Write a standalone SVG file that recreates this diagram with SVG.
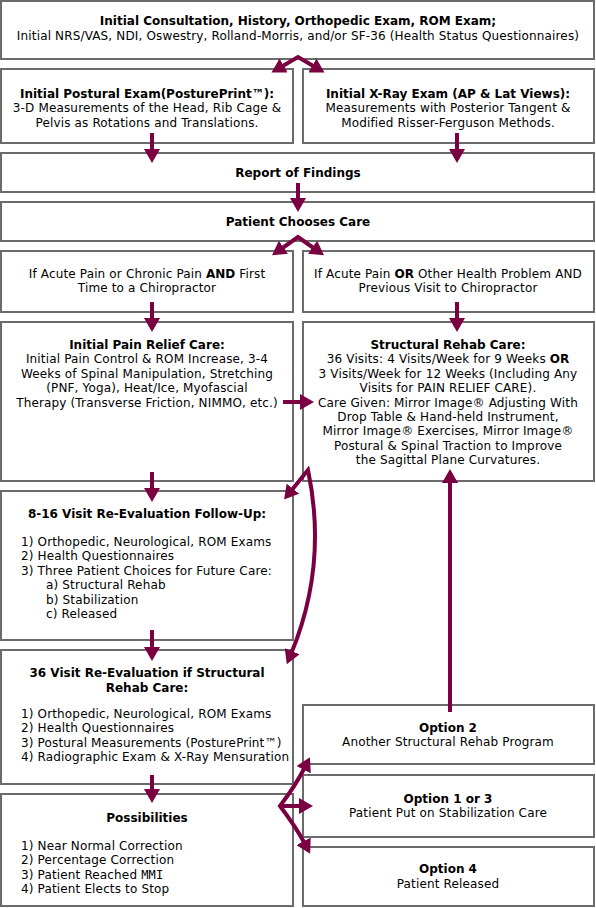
<svg xmlns="http://www.w3.org/2000/svg" width="596" height="908" viewBox="0 0 596 908">
<style>
.box{fill:#fff;stroke:#6b6b6b;stroke-width:2}
text{font-family:"DejaVu Sans","Liberation Sans",sans-serif;font-size:12px;fill:#000;letter-spacing:0.15px}
.c{text-anchor:middle}
.b{font-weight:bold;letter-spacing:0}
.ar{fill:none;stroke:#7b0041;stroke-width:4}
</style>
<defs>
<marker id="ah" viewBox="0 0 14 16" refX="3" refY="8" markerWidth="14" markerHeight="16" orient="auto-start-reverse" markerUnits="userSpaceOnUse">
<path d="M0,0 L14,8 L0,16 z" fill="#7b0041"/>
</marker>
</defs>
<rect width="596" height="908" fill="#fff"/>

<g id="consult">
<rect class="box" x="1" y="1" width="593" height="58"/>
<text class="c b" x="298" y="25">Initial Consultation, History, Orthopedic Exam, ROM Exam;</text>
<text class="c" x="298" y="40">Initial NRS/VAS, NDI, Oswestry, Rolland-Morris, and/or SF-36 (Health Status Questionnaires)</text>
</g>
<g id="postural">
<rect class="box" x="1" y="69" width="292" height="74"/>
<text class="c b" x="147" y="98">Initial Postural Exam(PosturePrint™):</text>
<text class="c" x="147" y="112">3-D Measurements of the Head, Rib Cage &amp;</text>
<text class="c" x="147" y="127">Pelvis as Rotations and Translations.</text>
</g>
<g id="xray">
<rect class="box" x="303" y="69" width="291" height="74"/>
<text class="c b" x="448" y="98">Initial X-Ray Exam (AP &amp; Lat Views):</text>
<text class="c" x="448" y="112">Measurements with Posterior Tangent &amp;</text>
<text class="c" x="448" y="127">Modified Risser-Ferguson Methods.</text>
</g>
<g id="report">
<rect class="box" x="1" y="153" width="593" height="39"/>
<text class="c b" x="298" y="177">Report of Findings</text>
</g>
<g id="chooses">
<rect class="box" x="1" y="202" width="593" height="39"/>
<text class="c b" x="298" y="226">Patient Chooses Care</text>
</g>
<g id="acuteA">
<rect class="box" x="1" y="251" width="292" height="61"/>
<text class="c" x="147" y="278">If Acute Pain or Chronic Pain <tspan class="b">AND</tspan> First</text>
<text class="c" x="147" y="292">Time to a Chiropractor</text>
</g>
<g id="acuteB">
<rect class="box" x="303" y="251" width="291" height="61"/>
<text class="c" x="448" y="278">If Acute Pain <tspan class="b">OR</tspan> Other Health Problem AND</text>
<text class="c" x="448" y="292">Previous Visit to Chiropractor</text>
</g>
<g id="painrelief">
<rect class="box" x="1" y="322" width="292" height="159"/>
<text class="c b" x="147" y="349">Initial Pain Relief Care:</text>
<text class="c" x="147" y="363.4">Initial Pain Control &amp; ROM Increase, 3-4</text>
<text class="c" x="147" y="377.8">Weeks of Spinal Manipulation, Stretching</text>
<text class="c" x="147" y="392.2">(PNF, Yoga), Heat/Ice, Myofascial</text>
<text class="c" x="147" y="406.6">Therapy (Transverse Friction, NIMMO, etc.)</text>
</g>
<g id="structural">
<rect class="box" x="303" y="322" width="291" height="159"/>
<text class="c b" x="448" y="349">Structural Rehab Care:</text>
<text class="c" x="448" y="363.4">36 Visits: 4 Visits/Week for 9 Weeks <tspan class="b">OR</tspan></text>
<text class="c" x="448" y="377.8">3 Visits/Week for 12 Weeks (Including Any</text>
<text class="c" x="448" y="392.2">Visits for PAIN RELIEF CARE).</text>
<text class="c" x="448" y="406.6">Care Given: Mirror Image® Adjusting With</text>
<text class="c" x="448" y="421">Drop Table &amp; Hand-held Instrument,</text>
<text class="c" x="448" y="435.4">Mirror Image® Exercises, Mirror Image®</text>
<text class="c" x="448" y="449.8">Postural &amp; Spinal Traction to Improve</text>
<text class="c" x="448" y="464.2">the Sagittal Plane Curvatures.</text>
</g>
<g id="reeval816">
<rect class="box" x="1" y="491" width="292" height="149"/>
<text class="c b" x="147" y="518">8-16 Visit Re-Evaluation Follow-Up:</text>
<text x="21" y="546">1) Orthopedic, Neurological, ROM Exams</text>
<text x="21" y="560.4">2) Health Questionnaires</text>
<text x="21" y="574.8">3) Three Patient Choices for Future Care:</text>
<text x="46" y="589.2">a) Structural Rehab</text>
<text x="46" y="603.6">b) Stabilization</text>
<text x="46" y="618">c) Released</text>
</g>
<g id="reeval36">
<rect class="box" x="1" y="650" width="292" height="134"/>
<text class="c b" x="147" y="677">36 Visit Re-Evaluation if Structural</text>
<text class="c b" x="147" y="692">Rehab Care:</text>
<text x="21" y="718">1) Orthopedic, Neurological, ROM Exams</text>
<text x="21" y="732.4">2) Health Questionnaires</text>
<text x="21" y="746.8">3) Postural Measurements (PosturePrint™)</text>
<text x="21" y="761.2">4) Radiographic Exam &amp; X-Ray Mensuration</text>
</g>
<g id="possibilities">
<rect class="box" x="1" y="794" width="292" height="112"/>
<text class="c b" x="147" y="822">Possibilities</text>
<text x="21" y="850">1) Near Normal Correction</text>
<text x="21" y="864.4">2) Percentage Correction</text>
<text x="21" y="878.8">3) Patient Reached <tspan font-family="DejaVu Sans Mono, monospace">MMI</tspan></text>
<text x="21" y="893.2">4) Patient Elects to Stop</text>
</g>
<g id="option2">
<rect class="box" x="303" y="705" width="291" height="59"/>
<text class="c b" x="448" y="732">Option 2</text>
<text class="c" x="448" y="746">Another Structural Rehab Program</text>
</g>
<g id="option13">
<rect class="box" x="303" y="775" width="291" height="62"/>
<text class="c b" x="448" y="803">Option 1 or 3</text>
<text class="c" x="448" y="817">Patient Put on Stabilization Care</text>
</g>
<g id="option4">
<rect class="box" x="303" y="847" width="291" height="59"/>
<text class="c b" x="448" y="873">Option 4</text>
<text class="c" x="448" y="888">Patient Released</text>
</g>

<g id="connectors">
<path class="ar" d="M281 67 L298 57 L315 67" marker-start="url(#ah)" marker-end="url(#ah)"/>
<path class="ar" d="M152 133 V152" marker-end="url(#ah)"/>
<path class="ar" d="M457 133 V152" marker-end="url(#ah)"/>
<path class="ar" d="M298 183 V201" marker-end="url(#ah)"/>
<path class="ar" d="M281 249 L298 237 L315 249" marker-start="url(#ah)" marker-end="url(#ah)"/>
<path class="ar" d="M152 302 V321" marker-end="url(#ah)"/>
<path class="ar" d="M457 302 V321" marker-end="url(#ah)"/>
<path class="ar" d="M283 402 H303" marker-end="url(#ah)"/>
<path class="ar" d="M152 472 V491" marker-end="url(#ah)"/>
<path class="ar" d="M291 491 L308 470 Q328 565 291 654" marker-start="url(#ah)" marker-end="url(#ah)"/>
<path class="ar" d="M152 630 V650" marker-end="url(#ah)"/>
<path class="ar" d="M152 775 V792" marker-end="url(#ah)"/>
<path class="ar" d="M450 712 V480" marker-end="url(#ah)"/>
<path class="ar" d="M305 767 Q296 785 280 806 Q296 827 305 844" marker-start="url(#ah)" marker-end="url(#ah)"/>
<path class="ar" d="M280 806 H302" marker-end="url(#ah)"/>
</g>
</svg>
